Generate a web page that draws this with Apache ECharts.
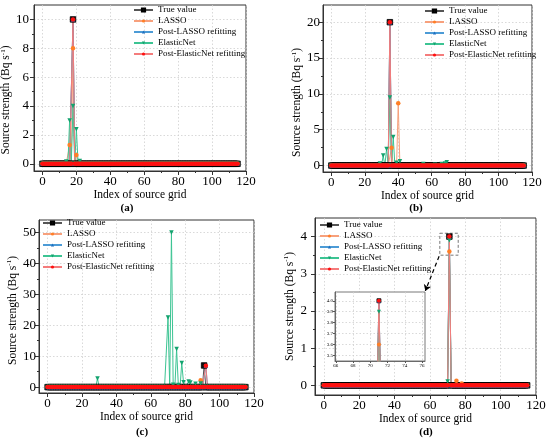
<!DOCTYPE html>
<html>
<head>
<meta charset="utf-8">
<script src="https://cdn.jsdelivr.net/npm/echarts@6/dist/echarts.min.js"></script>
<style>
  html, body { margin: 0; padding: 0; background: #fff; }
  #chart { width: 550px; height: 442px; }
</style>
</head>
<body>
<div id="chart"></div>
<script>
// Source grid has cells 0..115; all values not listed below are 0
const GRID_CELLS = 116;

const seriesNames = ['True value', 'LASSO', 'Post-LASSO refitting', 'ElasticNet', 'Post-ElasticNet refitting'];

// (a) non-zero values: [grid index, source strength]
const trueA = [[18, 10]];
const lassoA = [[16, 1.3], [18, 8.0], [20, 0.6]];
const postLassoA = [[18, 10]];
const elasticA = [[14, 0.15], [16, 3.0], [18, 4.0], [20, 2.4], [22, 0.2]];
const postElasticA = [[18, 10]];

// (b)
const trueB = [[35, 20]];
const lassoB = [[36, 2.5], [40, 8.7]];
const postLassoB = [[35, 20]];
const elasticB = [[29, 0.3], [31, 1.4], [33, 2.3], [35, 9.5], [37, 4.0], [39, 0.4], [41, 0.6],
                  [55, 0.2], [62, 0.1], [66, 0.2], [68, 0.3], [69, 0.45]];
const postElasticB = [[35, 20]];

// (c)
const trueC = [[91, 7.0]];
const lassoC = [[89, 2.2]];
const postLassoC = [[92, 6.9]];
const elasticC = [[29, 2.8], [70, 22.5], [72, 50], [73, 0.8], [75, 12.3], [76, 0.7], [78, 7.8],
                  [79, 1.6], [82, 1.8], [83, 1.5], [86, 1.1], [89, 1.2]];
const postElasticC = [[92, 6.9]];

// (d)
const trueD = [[71, 4.0]];
const lassoD = [[71, 3.6], [75, 0.12], [78, 0.05]];
const postLassoD = [[71, 4.0]];
const elasticD = [[70, 0.1], [71, 3.9]];
const postElasticD = [[71, 4.0]];

// tick labels
const xTicks = [0, 20, 40, 60, 80, 100, 120];
const xMinor = [10, 30, 50, 70, 90, 110];
const yTicksA = [0, 2, 4, 6, 8, 10];
const yMinorA = [1, 3, 5, 7, 9];
const yTicksB = [0, 5, 10, 15, 20];
const yMinorB = [2.5, 7.5, 12.5, 17.5];
const yTicksC = [0, 10, 20, 30, 40, 50];
const yMinorC = [5, 15, 25, 35, 45];
const yTicksD = [0, 1, 2, 3, 4];
const yMinorD = [0.5, 1.5, 2.5, 3.5];
const insetXTicks = [66, 68, 70, 72, 74, 76];
const insetYTicks = [3.5, 3.6, 3.7, 3.8, 3.9, 4.0];

// zoom annotation in (d): dashed box and arrow to the inset
const zoomBox = [[65.6, 4.09], [76, 3.5]];
const zoomArrow = [[65.2, 3.47], [57.4, 2.54]];

const FONT = "'Liberation Serif', 'Times New Roman', serif";

const styles = [
    { symbol: 'rect', size: 5.5, color: '#111111', line: '#555555' },
    { symbol: 'circle', size: 4.5, color: '#FF7F27', line: '#F7A07C' },
    { symbol: 'triangle', size: 4.5, color: '#1E6FC0', line: '#4C9BD6' },
    { symbol: 'triangle', rotate: 180, size: 4.5, color: '#12A36E', line: '#3CC493' },
    { symbol: 'circle', size: 4.5, color: '#FF1010', line: '#F47C7C' }
];

function fill(pairs) {
    const out = [];
    for (let i = 0; i < GRID_CELLS; i++) {
        const hit = pairs.find(p => p[0] === i);
        out.push([i, hit ? hit[1] : 0]);
    }
    return out;
}

const panels = [
    { label: '(a)', data: [trueA, lassoA, postLassoA, elasticA, postElasticA],
      ymin: -0.5, ymax: 11, yTicks: yTicksA, yMinor: yMinorA,
      grid: { left: 34, top: 5, width: 212, height: 166 },
      legend: { left: 133, top: 5 }, yGap: 13, xGap: 14, yMargin: 5, namePad: 24,
      tag: [127, 208] },
    { label: '(b)', data: [trueB, lassoB, postLassoB, elasticB, postElasticB],
      ymin: -0.9, ymax: 22.4, yTicks: yTicksB, yMinor: yMinorB,
      grid: { left: 323, top: 5, width: 209, height: 167 },
      legend: { left: 424, top: 6 }, yGap: 15, xGap: 14, yMargin: 3, namePad: 28,
      tag: [416, 208] },
    { label: '(c)', data: [trueC, lassoC, postLassoC, elasticC, postElasticC],
      ymin: -1.9, ymax: 54, yTicks: yTicksC, yMinor: yMinorC,
      grid: { left: 39, top: 220, width: 215, height: 173 },
      legend: { left: 42, top: 218 }, yGap: 20, xGap: 18, yMargin: 3, namePad: 8,
      tag: [142, 432] },
    { label: '(d)', data: [trueD, lassoD, postLassoD, elasticD, postElasticD],
      ymin: -0.26, ymax: 4.5, yTicks: yTicksD, yMinor: yMinorD,
      grid: { left: 315, top: 218, width: 221, height: 177 },
      legend: { left: 319, top: 220 }, yGap: 19, xGap: 15, yMargin: 8, namePad: 0,
      tag: [426, 432] }
];

const grids = [], xAxes = [], yAxes = [], series = [], legends = [], graphics = [];
const axisColor = '#333';
const splitStyle = { show: true, lineStyle: { color: '#cfcfcf', type: [1.5, 2], width: 0.8 } };

panels.forEach((p, pi) => {
    grids.push(Object.assign({ show: true, borderColor: axisColor, borderWidth: 1,
        backgroundColor: 'transparent', containLabel: false, outerBoundsMode: 'none' }, p.grid));

    xAxes.push({
        type: 'value', gridIndex: pi, min: -5, max: 120, position: 'bottom',
        axisLine: { show: true, onZero: false, lineStyle: { color: axisColor, width: 1 } },
        axisTick: { show: true, length: 4, customValues: xTicks, lineStyle: { color: axisColor } },
        axisLabel: { customValues: xTicks, fontSize: 13, fontFamily: FONT, color: '#000', margin: 4 },
        splitLine: splitStyle,
        name: 'Index of source grid', nameLocation: 'middle', nameGap: p.xGap,
        nameTextStyle: { fontSize: 11.5, fontFamily: FONT, color: '#000' }
    });
    // minor ticks
    xAxes.push({
        type: 'value', gridIndex: pi, min: -5, max: 120, position: 'bottom',
        axisLine: { show: false, onZero: false }, axisLabel: { show: false }, splitLine: { show: false },
        axisTick: { show: true, length: 2, customValues: xMinor, lineStyle: { color: axisColor } }
    });

    yAxes.push({
        type: 'value', gridIndex: pi, min: p.ymin, max: p.ymax, position: 'left',
        axisLine: { show: true, onZero: false, lineStyle: { color: axisColor, width: 1 } },
        axisTick: { show: true, length: 4, customValues: p.yTicks, lineStyle: { color: axisColor } },
        axisLabel: { customValues: p.yTicks, fontSize: 13, fontFamily: FONT, color: '#000', margin: p.yMargin },
        splitLine: splitStyle,
        name: '{t|Source strength (Bq s}{s|-1}{t|)}', nameLocation: 'middle', nameRotate: 90,
        nameGap: p.yGap,
        nameTextStyle: {
            padding: [0, p.namePad, 0, 0],
            rich: {
                t: { fontSize: 11.5, fontFamily: FONT, color: '#000', lineHeight: 13 },
                s: { fontSize: 7, fontFamily: FONT, color: '#000', verticalAlign: 'top', lineHeight: 7 }
            }
        }
    });
    // minor ticks
    yAxes.push({
        type: 'value', gridIndex: pi, min: p.ymin, max: p.ymax, position: 'left',
        axisLine: { show: false, onZero: false }, axisLabel: { show: false }, splitLine: { show: false },
        axisTick: { show: true, length: 2, customValues: p.yMinor, lineStyle: { color: axisColor } }
    });

    p.data.forEach((pairs, si) => {
        const st = styles[si];
        const s = {
            name: seriesNames[si], type: 'line',
            xAxisIndex: pi * 2, yAxisIndex: pi * 2,
            data: fill(pairs),
            symbol: st.symbol, symbolSize: st.size, symbolRotate: st.rotate || 0,
            showSymbol: true, showAllSymbol: true,
            itemStyle: { color: st.color, borderColor: si === 0 ? '#000' : st.color, borderWidth: si === 0 ? 0.8 : 0 },
            lineStyle: { color: st.line, width: 1 },
            emphasis: { disabled: true }
        };
        if (pi === 3 && si === 4) {
            s.markArea = {
                silent: true,
                itemStyle: { color: 'rgba(0,0,0,0)', borderColor: '#777', borderWidth: 1, borderType: [3, 2] },
                data: [[{ coord: zoomBox[0] }, { coord: zoomBox[1] }]]
            };
            s.markLine = {
                silent: true, symbol: ['none', 'arrow'], symbolSize: 6,
                label: { show: false },
                lineStyle: { color: '#000', type: [4, 3], width: 1.2 },
                data: [[{ coord: zoomArrow[0] }, { coord: zoomArrow[1] }]]
            };
        }
        series.push(s);
    });

    legends.push({
        data: seriesNames, orient: 'vertical', left: p.legend.left, top: p.legend.top,
        itemWidth: 19, itemHeight: 4, itemGap: 1, padding: 0, selectedMode: false,
        textStyle: { fontFamily: FONT, fontSize: 9, color: '#000', lineHeight: 10 }
    });

    graphics.push({
        type: 'text', x: p.tag[0], y: p.tag[1],
        style: { text: p.label, fill: '#000', align: 'center', verticalAlign: 'middle',
                 font: 'bold 11px ' + FONT }
    });
});

// inset of (d)
grids.push({ left: 335, top: 292, width: 90, height: 69, show: true, backgroundColor: '#fff',
             borderColor: '#555', borderWidth: 0.8, z: 3, containLabel: false, outerBoundsMode: 'none' });
xAxes.push({
    type: 'value', gridIndex: 4, min: 65.9, max: 76.35, z: 4, position: 'bottom',
    axisLine: { show: true, onZero: false, lineStyle: { color: '#555', width: 0.8 } },
    axisTick: { show: true, length: 2, customValues: insetXTicks, lineStyle: { color: '#555' } },
    axisLabel: { customValues: insetXTicks, fontSize: 5, fontFamily: FONT, color: '#000', margin: 2 },
    splitLine: splitStyle
});
yAxes.push({
    type: 'value', gridIndex: 4, min: 3.45, max: 4.08, z: 4, position: 'left',
    axisLine: { show: true, onZero: false, lineStyle: { color: '#555', width: 0.8 } },
    axisTick: { show: true, length: 2, customValues: insetYTicks, lineStyle: { color: '#555' } },
    axisLabel: { customValues: insetYTicks, fontSize: 5, fontFamily: FONT, color: '#000', margin: 2,
                 formatter: v => v.toFixed(1) },
    splitLine: splitStyle
});
panels[3].data.forEach((pairs, si) => {
    const st = styles[si];
    series.push({
        name: seriesNames[si], type: 'line', xAxisIndex: 8, yAxisIndex: 8, z: 5,
        data: fill(pairs), clip: true,
        symbol: st.symbol, symbolSize: 4, symbolRotate: st.rotate || 0,
        showSymbol: true, showAllSymbol: true,
        itemStyle: { color: st.color, borderColor: si === 0 ? '#000' : st.color, borderWidth: si === 0 ? 0.8 : 0 },
        lineStyle: { color: st.line, width: 1 },
        emphasis: { disabled: true }
    });
});

const chart = echarts.init(document.getElementById('chart'), null, { renderer: 'canvas' });
chart.setOption({
    backgroundColor: '#fff',
    animation: false,
    grid: grids,
    xAxis: xAxes,
    yAxis: yAxes,
    legend: legends,
    series: series,
    graphic: graphics
});
</script>
</body>
</html>
